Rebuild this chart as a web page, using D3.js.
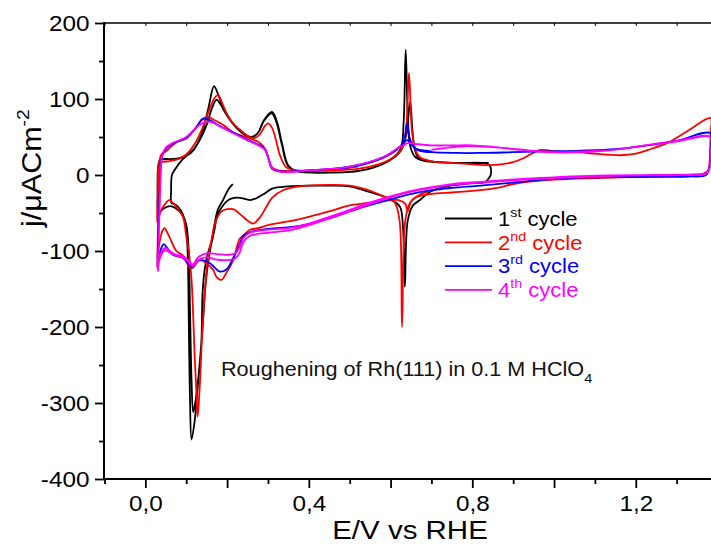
<!DOCTYPE html>
<html>
<head>
<meta charset="utf-8">
<script src="https://cdn.jsdelivr.net/npm/d3@7"></script>
<style>
  html, body { margin: 0; padding: 0; background: #fff; }
  svg { display: block; font-family: "Liberation Sans", Arial, sans-serif; }
</style>
</head>
<body>
<svg id="chart" width="711" height="544"></svg>
<script>
// Cyclic voltammograms of Rh(111) in 0.1 M HClO4, scans as [E (V vs RHE), j (µA cm^-2)]

// 1st cycle
const cycle1 = [
  [0.214,-12],[0.207,-16],[0.2,-22],[0.19,-33],[0.177,-46],[0.17,-63],[0.163,-85],[0.152,-105],[0.145,-125],
  [0.14,-155],[0.137,-221],[0.128,-279],[0.121,-322],[0.113,-348],[0.109,-290],[0.106,-180],[0.104,-110],
  [0.1,-72],[0.092,-52],[0.08,-42],[0.07,-38],[0.064,-37],[0.063,-20],[0.065,0],[0.072,7],[0.09,20],
  [0.117,33],[0.133,46],[0.15,66],[0.163,88],[0.174,99],[0.185,92],[0.2,78],[0.22,64],[0.24,55],[0.258,50],
  [0.275,55],[0.29,71],[0.309,81],[0.321,69],[0.334,40],[0.349,12],[0.37,5],[0.4,4],[0.5,4],[0.56,10],
  [0.6,20],[0.625,32],[0.638,52],[0.648,96],[0.654,55],[0.66,32],[0.67,22],[0.7,18],[0.76,16],[0.82,16],
  [0.836,15],[0.844,11],[0.845,0],[0.843,-2],[0.832,-9],[0.795,-11],[0.738,-15],[0.697,-22],[0.672,-33],
  [0.655,-40],[0.642,-60],[0.635,-147],[0.63,-65],[0.623,-42],[0.6,-32],[0.582,-28],[0.54,-21],[0.5,-15],
  [0.45,-14],[0.4,-14],[0.35,-15],[0.31,-18],[0.29,-25],[0.27,-31],[0.256,-33],[0.231,-30],[0.21,-31],
  [0.198,-35],[0.19,-40],[0.177,-52],[0.168,-75],[0.158,-100],[0.148,-140],[0.14,-200],[0.13,-265],
  [0.122,-300],[0.117,-312],[0.113,-270],[0.109,-170],[0.106,-100],[0.1,-65],[0.09,-52],[0.075,-44],
  [0.06,-41],[0.045,-44],[0.035,-48],[0.031,-46],[0.03,-25],[0.03,0],[0.032,14],[0.036,20],[0.045,21],
  [0.06,21],[0.08,22],[0.1,25],[0.12,34],[0.14,58],[0.155,90],[0.168,117],[0.178,106],[0.19,90],[0.21,70],
  [0.235,56],[0.258,49],[0.275,55],[0.29,72],[0.31,83],[0.322,70],[0.335,40],[0.35,12],[0.37,5],[0.45,3],
  [0.52,5],[0.57,12],[0.605,22],[0.625,35],[0.632,70],[0.637,165],[0.642,80],[0.648,38],[0.66,24],
  [0.68,19],[0.75,16],[0.84,16]
];

// 2nd cycle
const cycle2 = [
  [0.72,-18],[0.69,-22],[0.665,-28],[0.648,-36],[0.636,-60],[0.628,-200],[0.622,-60],[0.61,-36],[0.59,-30],
  [0.57,-25],[0.54,-19],[0.5,-14],[0.45,-13],[0.378,-15],[0.337,-20],[0.31,-30],[0.296,-42],[0.28,-56],
  [0.264,-64],[0.25,-60],[0.239,-55],[0.215,-45],[0.2,-45],[0.186,-48],[0.177,-55],[0.17,-64],[0.162,-85],
  [0.152,-115],[0.14,-200],[0.133,-279],[0.128,-318],[0.125,-287],[0.121,-243],[0.113,-138],[0.106,-100],
  [0.1,-81],[0.092,-55],[0.076,-42],[0.064,-35],[0.058,-33],[0.05,-37],[0.039,-46],[0.031,-59],[0.029,-62],
  [0.03,-30],[0.031,0],[0.033,12],[0.04,17],[0.055,18],[0.08,21],[0.1,27],[0.12,40],[0.14,62],[0.158,88],
  [0.17,102],[0.178,105],[0.19,92],[0.2,80],[0.215,68],[0.235,58],[0.255,50],[0.27,49],[0.282,55],
  [0.292,64],[0.3,68],[0.31,62],[0.32,45],[0.33,25],[0.345,10],[0.37,6],[0.45,6],[0.52,8],[0.57,14],
  [0.6,21],[0.625,33],[0.636,50],[0.645,134],[0.652,60],[0.66,35],[0.67,24],[0.7,18],[0.75,16],[0.8,14],
  [0.84,13],[0.87,14],[0.9,17],[0.925,22],[0.945,28],[0.966,33],[0.99,32],[1.023,30],[1.06,30],[1.1,28],
  [1.163,26],[1.2,28],[1.23,33],[1.28,43],[1.33,59],[1.383,75],[1.383,55],[1.381,20],[1.377,6],[1.36,1],
  [1.3,-1],[1.2,-2.5],[1.1,-4],[1.0,-6],[0.95,-8],[0.9,-12],[0.86,-17],[0.82,-20],[0.75,-23],[0.7,-25],
  [0.665,-29],[0.65,-35],[0.642,-48],[0.636,-38],[0.62,-33],[0.606,-33],[0.58,-34],[0.54,-37],[0.5,-40],
  [0.45,-48],[0.4,-55],[0.378,-58],[0.33,-63],[0.3,-66],[0.275,-70],[0.256,-72],[0.245,-77],[0.231,-84],
  [0.215,-112],[0.198,-129],[0.186,-138],[0.174,-134],[0.166,-125],[0.149,-116],[0.133,-112],[0.117,-121],
  [0.11,-123],[0.092,-106],[0.076,-100],[0.06,-83],[0.05,-72],[0.047,-70],[0.042,-73],[0.037,-82],
  [0.033,-95],[0.03,-112],[0.029,-122],[0.031,-70],[0.033,-10],[0.035,20],[0.04,28],[0.05,31],[0.06,36],
  [0.08,44],[0.1,48],[0.12,60],[0.14,73],[0.153,76],[0.17,72],[0.19,66],[0.215,56],[0.24,51],[0.26,47],
  [0.275,44],[0.288,38],[0.3,24],[0.31,10],[0.325,6],[0.4,6],[0.48,9],[0.52,11]
];

// 3rd cycle
const cycle3 = [
  [0.46,8],[0.52,12],[0.58,22],[0.615,33],[0.632,44],[0.64,68],[0.647,48],[0.655,38],[0.67,32],[0.7,30],
  [0.76,29],[0.82,29],[0.9,30],[0.98,31],[1.065,32],[1.15,34],[1.228,39],[1.3,45],[1.383,55],[1.383,35],
  [1.38,10],[1.372,0],[1.33,-2],[1.2,-2.6],[1.08,-3],[0.98,-6],[0.9,-10],[0.82,-14],[0.75,-17],[0.7,-20],
  [0.66,-24],[0.62,-29],[0.58,-35],[0.54,-41],[0.5,-48],[0.45,-57],[0.378,-67],[0.3,-71],[0.256,-75],
  [0.24,-80],[0.228,-95],[0.214,-110],[0.199,-124],[0.182,-127],[0.17,-122],[0.158,-116],[0.14,-112],
  [0.128,-113],[0.115,-122],[0.105,-116],[0.091,-109],[0.067,-105],[0.055,-97],[0.045,-91],[0.039,-96],
  [0.034,-106],[0.03,-120],[0.031,-90],[0.034,-40],[0.037,5],[0.04,22],[0.045,30],[0.055,37],[0.075,43],
  [0.1,49],[0.125,63],[0.14,74],[0.155,73],[0.18,65],[0.215,56],[0.256,45],[0.28,39],[0.293,34],
  [0.302,20],[0.31,8],[0.325,5],[0.4,6],[0.5,11],[0.58,23],[0.62,36],[0.635,44],[0.641,46],[0.648,42],
  [0.66,35],[0.7,31]
];

// 4th cycle
const cycle4 = [
  [0.7,33],[0.74,36],[0.787,38],[0.84,37],[0.91,34],[0.98,30],[1.07,30],[1.146,33],[1.236,40],[1.3,44],
  [1.383,50],[1.383,30],[1.381,10],[1.375,3],[1.35,1],[1.25,0],[1.1,-1],[1.0,-3],[0.92,-5],[0.82,-9],
  [0.75,-12],[0.7,-16],[0.66,-20],[0.62,-25],[0.58,-31],[0.54,-38],[0.5,-46],[0.45,-55],[0.4,-64],
  [0.35,-70],[0.3,-72],[0.27,-74],[0.255,-76],[0.24,-83],[0.23,-95],[0.22,-103],[0.2,-105],[0.175,-104],
  [0.15,-103],[0.13,-108],[0.115,-118],[0.105,-112],[0.09,-106],[0.075,-105],[0.06,-100],[0.05,-96],
  [0.045,-97],[0.038,-103],[0.033,-112],[0.03,-125],[0.032,-95],[0.035,-40],[0.038,8],[0.041,26],
  [0.05,36],[0.067,42],[0.1,50],[0.133,66],[0.15,70],[0.165,69],[0.19,62],[0.215,55],[0.256,44],
  [0.28,38],[0.295,32],[0.303,18],[0.312,8],[0.33,4],[0.4,6],[0.5,11],[0.58,23],[0.62,36],[0.642,42],
  [0.66,41],[0.7,39],[0.75,39],[0.8,39],[0.85,37],[0.92,33],[1.0,30],[1.07,31],[1.146,33],[1.236,40],
  [1.3,45],[1.383,50],[1.383,30],[1.38,8],[1.372,2],[1.3,0],[1.15,-1],[1.0,-4],[0.9,-7],[0.82,-10],
  [0.75,-13],[0.7,-17],[0.62,-26],[0.54,-40],[0.5,-48],[0.45,-57],[0.4,-66],[0.35,-73],[0.3,-76],
  [0.27,-78],[0.256,-80],[0.24,-88],[0.23,-103],[0.22,-110],[0.2,-112],[0.17,-111],[0.15,-108],
  [0.13,-112],[0.115,-120],[0.105,-114],[0.09,-108],[0.075,-106],[0.06,-102],[0.05,-99],[0.045,-100],
  [0.038,-106],[0.033,-115],[0.031,-127]
];

const seriesNames = ["1", "2", "3", "4"];
const seriesSuffix = ["st", "nd", "rd", "th"];
const seriesColors = ["#000000", "#ff0000", "#0000ff", "#ff00ff"];
const xLabelTicks = [0, 0.4, 0.8, 1.2];
const yLabelTicks = [-400, -300, -200, -100, 0, 100, 200];
const annotation = "Roughening of Rh(111) in 0.1 M HClO";

const scans = [cycle1, cycle2, cycle3, cycle4];

const svg = d3.select("#chart");
const plotL = 104, plotT = 23, plotB = 479, plotR = 711;
const stretch = 1.13;   // glyphs are drawn slightly wide

const x = d3.scaleLinear().domain([-0.1, 1.4]).range([104.5, 717.5]);
const y = d3.scaleLinear().domain([-400, 200]).range([plotB, plotT]);

svg.append("defs").append("clipPath").attr("id", "plotClip")
  .append("rect").attr("x", plotL).attr("y", plotT - 2)
  .attr("width", plotR - plotL).attr("height", plotB - plotT + 2);

// curves
const line = d3.line()
  .x(d => x(d[0])).y(d => y(d[1]))
  .curve(d3.curveCatmullRom.alpha(0.5));

svg.append("g").attr("clip-path", "url(#plotClip)")
  .selectAll("path").data(scans).join("path")
  .attr("d", line)
  .attr("fill", "none")
  .attr("stroke", (d, i) => seriesColors[i])
  .attr("stroke-width", 1.8)
  .attr("stroke-linejoin", "round");

// bottom axis: ticks every 0.1, major every 0.2, labels every 0.4
const xTickVals = d3.range(-1, 15).map(i => i / 10);
const isLabelled = v => xLabelTicks.some(t => Math.abs(t - v) < 1e-6);
const isMajor = v => Math.abs(Math.round(v * 10) % 2) === 0;

const gx = svg.append("g").attr("transform", `translate(0,${plotB})`)
  .call(d3.axisBottom(x).tickValues(xTickVals).tickSizeOuter(0)
    .tickFormat(v => isLabelled(v) ? d3.format(".1f")(v).replace(".", ",") : ""));
gx.select(".domain").remove();
gx.selectAll(".tick line")
  .attr("y2", d => isMajor(d) ? 9 : 5)
  .attr("stroke", "#000").attr("stroke-width", 1.8);
gx.selectAll(".tick text")
  .attr("y", 32.5).attr("dy", null)
  .attr("transform", `scale(${stretch},1)`)
  .attr("font-size", 21.5).attr("fill", "#000")
  .attr("font-family", "Liberation Sans, Arial, sans-serif");

// top axis: small inward ticks
const gt = svg.append("g").attr("transform", `translate(0,${plotT})`)
  .call(d3.axisBottom(x).tickValues(xTickVals).tickSize(3).tickFormat(""));
gt.select(".domain").remove();
gt.selectAll(".tick line").attr("stroke", "#000").attr("stroke-width", 1);

// left axis
const yTickVals = d3.range(-8, 5).map(i => i * 50);
const gy = svg.append("g").attr("transform", `translate(${plotL},0)`)
  .call(d3.axisLeft(y).tickValues(yTickVals).tickSizeOuter(0)
    .tickFormat(v => yLabelTicks.includes(v) ? String(v) : ""));
gy.select(".domain").remove();
gy.selectAll(".tick line")
  .attr("x2", d => d % 100 === 0 ? -9 : -5)
  .attr("stroke", "#000").attr("stroke-width", 1.8);
gy.selectAll(".tick text")
  .attr("x", -14.5 / stretch).attr("dy", "0.35em")
  .attr("transform", `scale(${stretch},1)`)
  .attr("font-size", 21.5).attr("fill", "#000")
  .attr("font-family", "Liberation Sans, Arial, sans-serif");

// frame lines
svg.append("line").attr("x1", plotL).attr("x2", plotL).attr("y1", plotT - 1).attr("y2", plotB + 1)
  .attr("stroke", "#000").attr("stroke-width", 2);
svg.append("line").attr("x1", plotL - 1).attr("x2", plotR).attr("y1", plotB).attr("y2", plotB)
  .attr("stroke", "#000").attr("stroke-width", 2);
svg.append("line").attr("x1", plotL - 1).attr("x2", plotR).attr("y1", plotT).attr("y2", plotT)
  .attr("stroke", "#000").attr("stroke-width", 1.4);

// axis titles
svg.append("text")
  .attr("transform", `translate(410,538.5) scale(1.18,1)`)
  .attr("text-anchor", "middle").attr("font-size", 25).attr("fill", "#000")
  .text("E/V vs RHE");

const yt = svg.append("text")
  .attr("transform", `translate(40.5,227) rotate(-90) scale(${stretch},1)`)
  .attr("font-size", 27).attr("fill", "#000");
yt.append("tspan").text("j/μACm");
yt.append("tspan").attr("font-size", 17).attr("dy", -12).text("-2");

// legend
const legend = svg.append("g");
seriesNames.forEach((n, i) => {
  legend.append("line")
    .attr("x1", 445).attr("x2", 492)
    .attr("y1", 218.5 + i * 23.8).attr("y2", 218.5 + i * 23.8)
    .attr("stroke", seriesColors[i]).attr("stroke-width", 1.8);
  const t = legend.append("text")
    .attr("transform", `translate(498,${226 + i * 23.6}) scale(1.1,1)`)
    .attr("font-size", 20).attr("fill", seriesColors[i]);
  t.append("tspan").text(n);
  t.append("tspan").attr("font-size", 13).attr("dy", -9).text(seriesSuffix[i]);
  t.append("tspan").attr("dy", 9).text(" cycle");
});

// annotation
const ann = svg.append("text")
  .attr("transform", `translate(221,376) scale(1.12,1)`)
  .attr("font-size", 19.3).attr("fill", "#111");
ann.append("tspan").text(annotation);
ann.append("tspan").attr("font-size", 13).attr("dy", 7).text("4");
</script>
</body>
</html>
